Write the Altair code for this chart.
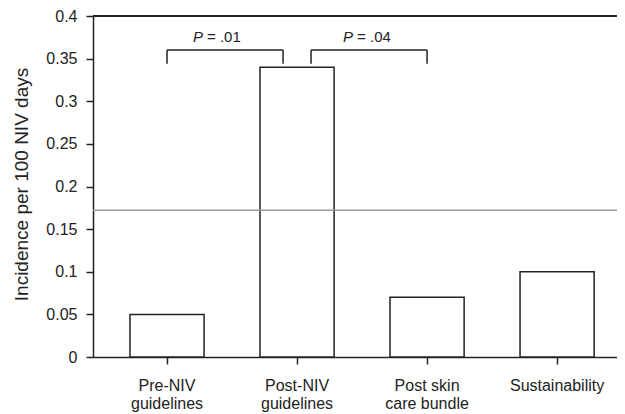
import altair as alt
import pandas as pd

categories = ["Pre-NIV guidelines", "Post-NIV guidelines", "Post skin care bundle", "Sustainability"]
label_lines = [["Pre-NIV", "guidelines"], ["Post-NIV", "guidelines"], ["Post skin", "care bundle"], ["Sustainability"]]
incidence = [0.05, 0.34, 0.07, 0.10]
reference_value = 0.172
bracket_top = 0.36
bracket_bottom = 0.344
label_y = 0.375
p_labels = ["= .01", "= .04"]

FONT = "Liberation Sans"
INK = "#222222"

bars_df = pd.DataFrame({"cat": categories, "val": incidence})

label_map = "{" + ", ".join(
    "'%s': [%s]" % (c, ", ".join("'%s'" % s for s in l)) for c, l in zip(categories, label_lines)
) + "}"

xscale = alt.Scale(domain=categories, paddingInner=0.43, paddingOuter=0.23, align=0.618)
yscale = alt.Scale(domain=[0, 0.4], nice=False)

x_enc = alt.X(
    "cat:N",
    scale=xscale,
    sort=categories,
    axis=alt.Axis(
        title=None,
        labelAngle=0,
        labelExpr=label_map + "[datum.value]",
        labelFont=FONT,
        labelFontSize=16,
        labelColor=INK,
        labelLineHeight=18,
        labelPadding=13,
        tickSize=7,
        tickColor=INK,
        tickWidth=1.5,
        domainColor=INK,
        domainWidth=1.5,
        labelBaseline="top",
    ),
)

y_enc = alt.Y(
    "val:Q",
    scale=yscale,
    axis=alt.Axis(
        title="Incidence per 100 NIV days",
        titleFont=FONT,
        titleFontSize=19,
        titleFontWeight="normal",
        titleColor=INK,
        titleX=-66,
        titleY=168,
        titleBaseline="alphabetic",
        values=[0, 0.05, 0.1, 0.15, 0.2, 0.25, 0.3, 0.35, 0.4],
        format="~g",
        labelFont=FONT,
        labelFontSize=16,
        labelColor=INK,
        labelPadding=9,
        tickSize=7,
        tickColor=INK,
        tickWidth=1.5,
        domainColor=INK,
        domainWidth=1.5,
        grid=False,
    ),
)

bars = alt.Chart(bars_df).mark_bar(fill="white", stroke=INK, strokeWidth=1.5).encode(x=x_enc, y=y_enc)

top_line = alt.Chart(pd.DataFrame({"v": [0.4]})).mark_rule(color=INK, strokeWidth=2).encode(
    y=alt.Y("v:Q", scale=yscale)
)
ref_line = alt.Chart(pd.DataFrame({"v": [reference_value]})).mark_rule(color="#999999", strokeWidth=1.5).encode(
    y=alt.Y("v:Q", scale=yscale)
)

bw = 1.5
h1 = alt.Chart(pd.DataFrame({"a": [categories[0]], "b": [categories[1]], "y": [bracket_top]})).mark_rule(
    color=INK, strokeWidth=bw, x2Offset=-14
).encode(x=alt.X("a:N", scale=xscale), x2="b:N", y=alt.Y("y:Q", scale=yscale))
h2 = alt.Chart(pd.DataFrame({"a": [categories[1]], "b": [categories[2]], "y": [bracket_top]})).mark_rule(
    color=INK, strokeWidth=bw, xOffset=14
).encode(x=alt.X("a:N", scale=xscale), x2="b:N", y=alt.Y("y:Q", scale=yscale))

vdf_outer = pd.DataFrame({"a": [categories[0], categories[2]], "y": [bracket_top] * 2, "y2": [bracket_bottom] * 2})
v_outer = alt.Chart(vdf_outer).mark_rule(color=INK, strokeWidth=bw).encode(
    x=alt.X("a:N", scale=xscale), y=alt.Y("y:Q", scale=yscale), y2="y2:Q"
)
vdf_mid = pd.DataFrame({"a": [categories[1]], "y": [bracket_top], "y2": [bracket_bottom]})
v_mid_l = alt.Chart(vdf_mid).mark_rule(color=INK, strokeWidth=bw, xOffset=-14).encode(
    x=alt.X("a:N", scale=xscale), y=alt.Y("y:Q", scale=yscale), y2="y2:Q"
)
v_mid_r = alt.Chart(vdf_mid).mark_rule(color=INK, strokeWidth=bw, xOffset=14).encode(
    x=alt.X("a:N", scale=xscale), y=alt.Y("y:Q", scale=yscale), y2="y2:Q"
)

t1 = pd.DataFrame({"a": [categories[0]], "y": [label_y], "t": [p_labels[0]]})
t2 = pd.DataFrame({"a": [categories[1]], "y": [label_y], "t": [p_labels[1]]})

def ptext(df, dx):
    p = alt.Chart(df).mark_text(
        font=FONT, fontSize=15, fontStyle="italic", color=INK, align="right", baseline="middle", dx=dx
    ).encode(x=alt.X("a:N", scale=xscale), y=alt.Y("y:Q", scale=yscale), text=alt.value("P"))
    rest = alt.Chart(df).mark_text(
        font=FONT, fontSize=15, color=INK, align="left", baseline="middle", dx=dx + 4
    ).encode(x=alt.X("a:N", scale=xscale), y=alt.Y("y:Q", scale=yscale), text="t:N")
    return p + rest

chart = alt.layer(
    bars, ref_line, top_line, h1, h2, v_outer, v_mid_l, v_mid_r, ptext(t1, 36), ptext(t2, 56)
).properties(
    width=524,
    height=341,
    autosize=alt.AutoSizeParams(type="none"),
    padding={"left": 85, "top": 8, "right": 0, "bottom": 57},
).configure_view(stroke=None)

chart.save("out.html", embed_options={"renderer": "svg", "actions": False})
